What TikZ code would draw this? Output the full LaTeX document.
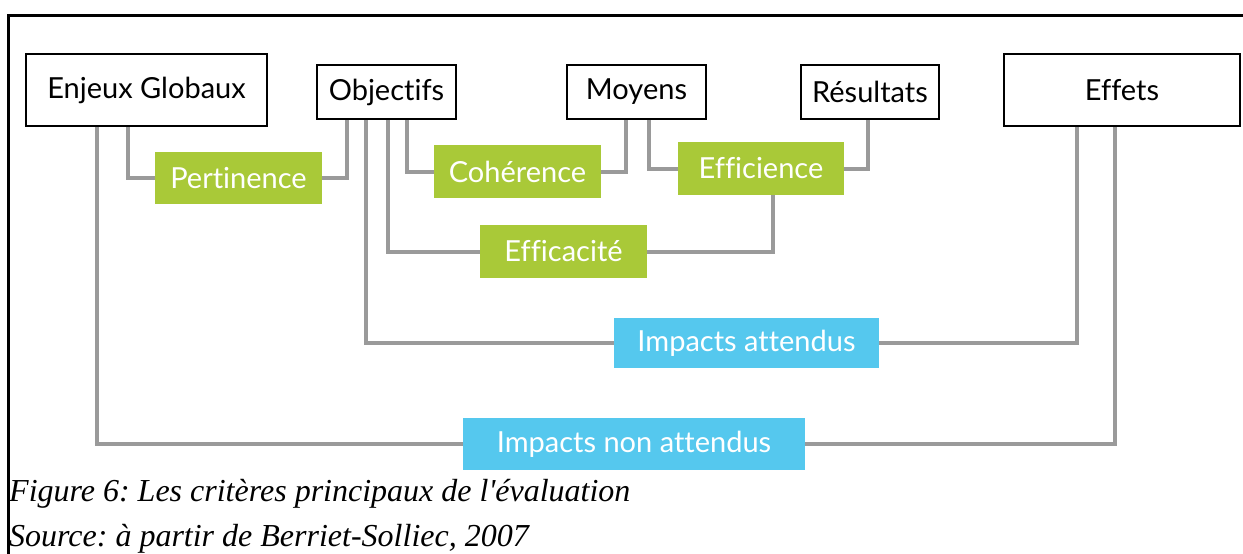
\documentclass[tikz,border=0pt]{standalone}
\usepackage{fontspec}
\setmainfont{Liberation Serif}
\newfontfamily\boxfont{Lato}[Ligatures={NoCommon}]
\usetikzlibrary{backgrounds}
\definecolor{lgreen}{HTML}{A9C938}
\definecolor{lblue}{HTML}{55C8EE}
\definecolor{lgray}{HTML}{9A9A9A}
\frenchspacing
\tikzset{
  base/.style={inner sep=0pt, font=\boxfont\fontsize{29}{33}\selectfont},
  wbox/.style={base, draw=black, line width=1.5pt, fill=white, text=black},
  gbox/.style={base, fill=lgreen, text=white},
  bbox/.style={base, fill=lblue, text=white},
  conn/.style={draw=lgray, line width=4pt},
  frameline/.style={draw=black, line width=3pt},
  captext/.style={anchor=base west, inner sep=0pt, font=\itshape\fontsize{32}{36}\selectfont}
}
\begin{document}
\begin{tikzpicture}[x=1pt,y=-1pt]
\useasboundingbox (0,0) rectangle (1243,554);
% frame
\draw[frameline] (7,15) -- (1243,15);
\draw[frameline] (8,14) -- (8,554);
% top boxes
\node[wbox, minimum width=241pt, minimum height=72pt] (enj) at (146.5,90) {Enjeux Globaux};
\node[wbox, minimum width=139pt, minimum height=54pt] (obj) at (386.5,92) {Objectifs};
\node[wbox, minimum width=139pt, minimum height=54pt] (moy) at (636.5,92) {Moyens};
\node[wbox, minimum width=138pt, minimum height=54pt] (res) at (870,92) {Résultats};
\node[wbox, minimum width=236pt, minimum height=72pt] (effets) at (1122,90) {Effets};
% criteria
\node[gbox, minimum width=167pt, minimum height=52pt] (pert) at (238.5,178) {Pertinence};
\node[gbox, minimum width=167pt, minimum height=53pt] (coh) at (517.5,171.5) {Cohérence};
\node[gbox, minimum width=166pt, minimum height=53pt] (eff) at (761,168.5) {Efficience};
\node[gbox, minimum width=167pt, minimum height=53pt] (effic) at (563.5,251.5) {Efficacité};
\node[bbox, minimum width=265pt, minimum height=50pt] (att) at (746.5,343) {Impacts attendus};
\node[bbox, minimum width=342pt, minimum height=52pt] (nonatt) at (634,444) {Impacts non attendus};
% connectors
\begin{scope}[on background layer]
\draw[conn] (enj.south -| 97,0) |- (nonatt.west);
\draw[conn] (enj.south -| 128,0) |- (pert.west);
\draw[conn] (obj.south -| 347,0) |- (pert.east);
\draw[conn] (obj.south -| 366,0) |- (att.west);
\draw[conn] (obj.south -| 388,0) |- (effic.west);
\draw[conn] (obj.south -| 407,0) |- (coh.west);
\draw[conn] (moy.south -| 626,0) |- (coh.east);
\draw[conn] (moy.south -| 649,0) |- (eff.west);
\draw[conn] (res.south -| 868,0) |- (eff.east);
\draw[conn] (eff.south -| 773,0) |- (effic.east);
\draw[conn] (effets.south -| 1077,0) |- (att.east);
\draw[conn] (effets.south -| 1115,0) |- (nonatt.east);
\end{scope}
% captions
\node[captext] (fig) at (9,501) {Figure 6: Les critères principaux de l\textquotesingle évaluation};
\node[captext] (src) at (9,546) {Source: à partir de Berriet-Solliec, 2007};
\end{tikzpicture}
\end{document}
